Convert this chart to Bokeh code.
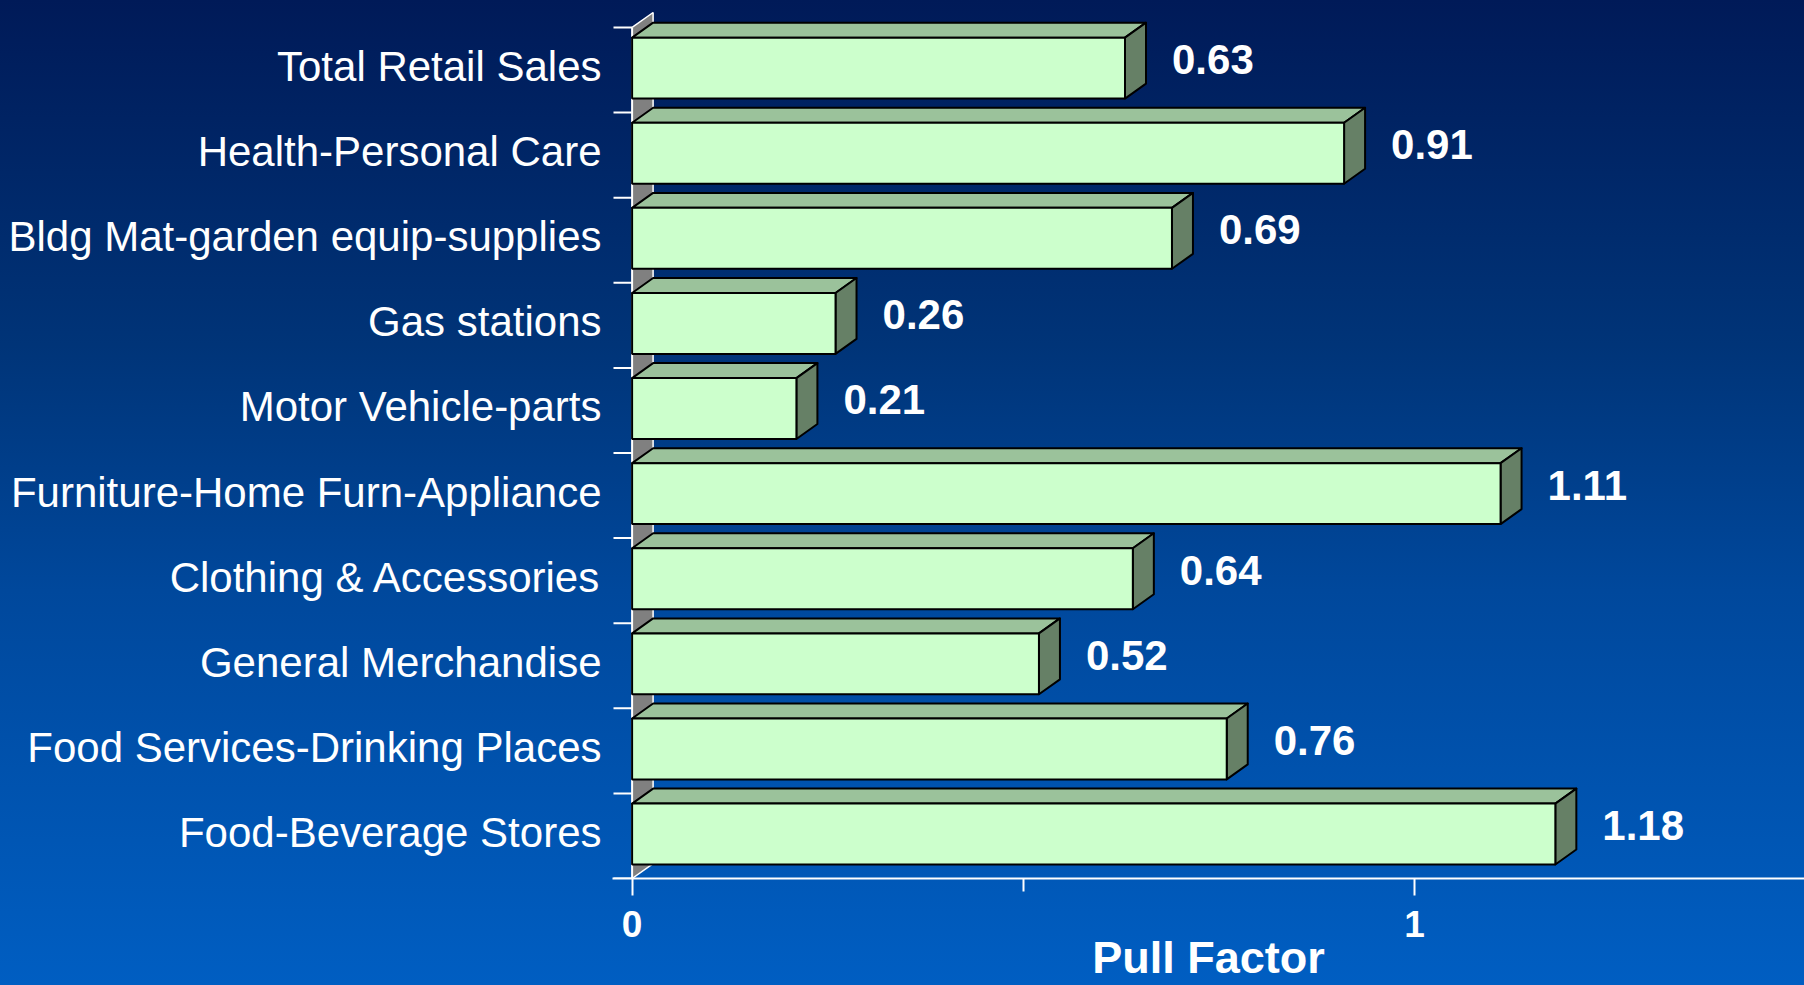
from bokeh.plotting import figure
from bokeh.models import Range1d, FixedTicker, ColumnDataSource
from bokeh.core.properties import value
from bokeh.embed import file_html
from bokeh.resources import INLINE

# ---------------- data ----------------
categories = [
    "Total Retail Sales",
    "Health-Personal Care",
    "Bldg Mat-garden equip-supplies",
    "Gas stations",
    "Motor Vehicle-parts",
    "Furniture-Home Furn-Appliance",
    "Clothing & Accessories",
    "General Merchandise",
    "Food Services-Drinking Places",
    "Food-Beverage Stores",
]
pull_factor = [0.63, 0.91, 0.69, 0.26, 0.21, 1.11, 0.64, 0.52, 0.76, 1.18]
value_labels = ["0.63", "0.91", "0.69", "0.26", "0.21", "1.11", "0.64", "0.52", "0.76", "1.18"]
x_ticks = [0, 1]
x_minor_ticks = [0.5]
x_tick_labels = ["0", "1"]
axis_title = "Pull Factor"

# ---------------- styling / geometry ----------------
W, H = 1804, 985
LEFT, BOTTOM = 612, 106
PX_X = 782.4                     # pixels per x unit
PX_Y = 85.2                      # pixels per category row
X0 = (612 - 631.6) / PX_X
X1 = (1804 - 631.6) / PX_X
Y0, Y1 = 0.0, 879 / PX_Y
DX, DY = 21 / PX_X, 15 / PX_Y    # 3-D depth offsets
FB, FT = 14 / PX_Y, 75 / PX_Y    # front face bottom / top inside a row
FRONT, TOPC, SIDE = "#CCFFCC", "#9BC29B", "#668066"
WALL = "#808080"
REG = "'Liberation Sans', Arial, sans-serif"

n = len(categories)
rows = [n - 1 - k for k in range(n)]   # first category at the top

p = figure(width=W, height=H, output_backend="svg", toolbar_location=None,
           x_range=Range1d(X0, X1), y_range=Range1d(Y0, Y1),
           min_border_left=LEFT, min_border_right=0, min_border_top=0,
           min_border_bottom=BOTTOM)
p.background_fill_alpha = 0
p.border_fill_alpha = 0
p.outline_line_color = None
p.styles = {"background": "linear-gradient(to bottom, #001a58 0%, #003478 35%, #00489c 60%, #005ec2 100%)"}
p.grid.visible = False

# back wall
p.patch([0, 0, DX, DX], [0, n, n + DY, DY], fill_color=WALL, line_color=None)
p.line([0, DX, DX, 0], [n, n + DY, DY, 0], line_color="white", line_width=1.5)

# category tick marks and vertical axis line
tick_left = (613 - 631.6) / PX_X
p.segment(x0=[tick_left] * (n + 1), y0=list(range(n + 1)), x1=[0] * (n + 1),
          y1=list(range(n + 1)), line_color="white", line_width=2)
p.segment(x0=[0], y0=[0], x1=[0], y1=[n], line_color="white", line_width=2)

# bars
src = ColumnDataSource(dict(
    v=pull_factor,
    b=[r + FB for r in rows],
    t=[r + FT for r in rows],
))
top_xs = [[0, v, v + DX, DX] for v in pull_factor]
top_ys = [[r + FT, r + FT, r + FT + DY, r + FT + DY] for r in rows]
side_xs = [[v, v + DX, v + DX, v] for v in pull_factor]
side_ys = [[r + FB, r + FB + DY, r + FT + DY, r + FT] for r in rows]
p.patches(top_xs, top_ys, fill_color=TOPC, line_color="black", line_width=2, line_join="round")
p.patches(side_xs, side_ys, fill_color=SIDE, line_color="black", line_width=2, line_join="round")
p.quad(left=0, right="v", bottom="b", top="t", source=src,
       fill_color=FRONT, line_color="black", line_width=2)

# value labels
p.text(x=[v + DX + 26 / PX_X for v in pull_factor], y=[r + 0.5 + 10.5 / PX_Y for r in rows],
       text=value_labels, text_color="white", text_font=value(REG),
       text_font_style="bold", text_font_size="42px",
       text_align="left", text_baseline="middle")

# y axis (category labels)
LAB_SHIFT = 3.5 / PX_Y
ya = p.yaxis[0]
ya.ticker = FixedTicker(ticks=[r + 0.5 + LAB_SHIFT for r in rows])
ya.major_label_overrides = {r + 0.5 + LAB_SHIFT: c for r, c in zip(rows, categories)}
ya.axis_line_color = None
ya.major_tick_line_color = None
ya.minor_tick_line_color = None
ya.major_label_standoff = 5
ya.major_label_text_color = "white"
ya.major_label_text_font = REG
ya.major_label_text_font_size = "42px"

# x axis
xa = p.xaxis[0]
xa.ticker = FixedTicker(ticks=x_ticks, minor_ticks=x_minor_ticks)
xa.major_label_overrides = {t: l for t, l in zip(x_ticks, x_tick_labels)}
xa.axis_line_color = "white"
xa.axis_line_width = 2
xa.major_tick_line_color = "white"
xa.major_tick_line_width = 2
xa.minor_tick_line_color = "white"
xa.minor_tick_line_width = 2
xa.major_tick_in = 0
xa.major_tick_out = 17
xa.minor_tick_in = 0
xa.minor_tick_out = 13
xa.major_label_standoff = 15
xa.major_label_text_color = "white"
xa.major_label_text_font = REG
xa.major_label_text_font_style = "bold"
xa.major_label_text_font_size = "37px"
xa.axis_label = axis_title
xa.axis_label_standoff = -8
xa.axis_label_text_color = "white"
xa.axis_label_text_font = REG
xa.axis_label_text_font_style = "bold"
xa.axis_label_text_font_size = "45px"

open("out.html", "w").write(file_html(p, INLINE))
